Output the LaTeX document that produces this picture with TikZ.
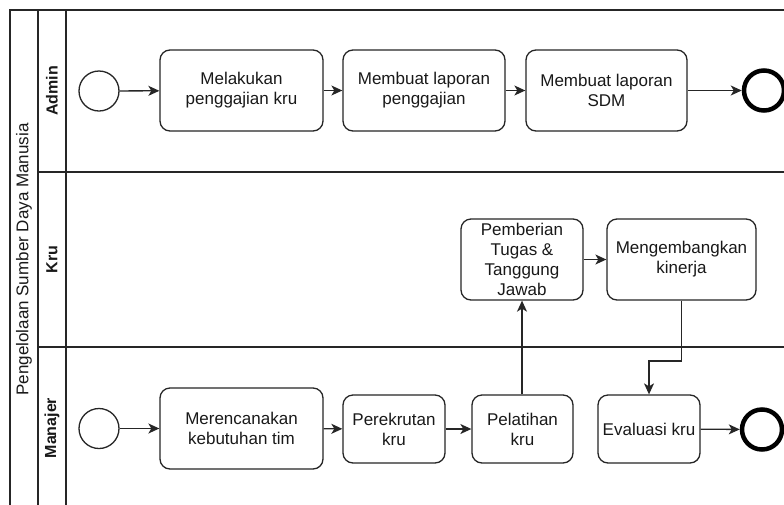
\documentclass[tikz,border=0pt]{standalone}
\usepackage{fontspec}
\setmainfont{Liberation Sans}
\usetikzlibrary{arrows.meta,calc}
\begin{document}
\begin{tikzpicture}[x=1pt,y=-1pt,
  line/.style={draw=black!85, line width=1.3pt},
  task/.style={line, rounded corners=10pt, fill=white, align=center,
    text=black!90, font=\fontsize{17}{20}\selectfont, inner sep=0pt},
  arr/.style={line, -{Stealth[length=11pt,width=10pt,inset=3pt]}},
  startev/.style={line, circle, minimum size=40pt, inner sep=0pt, fill=white},
  endev/.style={draw=black, line width=4.5pt, circle, minimum size=40pt, inner sep=0pt, fill=white},
  lanelabel/.style={rotate=90, font=\bfseries\fontsize{16}{19}\selectfont, text=black!90},
  pooltitle/.style={rotate=90, font=\fontsize{17}{20}\selectfont, text=black!90}
]
\clip (0,0) rectangle (784,504);
\fill[white] (0,0) rectangle (784,504);

% pool frame and lane dividers
\draw[line] (10,10) rectangle (800,509);
\draw[line] (38,10) -- (38,509);
\draw[line] (66,10) -- (66,509);
\draw[line] (38,172) -- (800,172);
\draw[line] (38,347) -- (800,347);

\node[pooltitle] (pool) at (24,259.5) {Pengelolaan Sumber Daya Manusia};
\node[lanelabel] (lAdmin) at (52,91) {Admin};
\node[lanelabel] (lKru) at (52,259.5) {Kru};
\node[lanelabel] (lMan) at (52,428) {Manajer};

% Admin lane
\node[startev] (s1) at (99,91) {};
\node[task, minimum width=163pt, minimum height=81pt] (gaji) at (241.5,90.5) {Melakukan\\penggajian kru};
\node[task, minimum width=162pt, minimum height=81pt] (lapgaji) at (424,90.5) {Membuat laporan\\penggajian};
\node[task, minimum width=161pt, minimum height=81pt] (lapsdm) at (606.5,90.5) {Membuat laporan\\SDM};
\node[endev] (e1) at (764,90.5) {};

% Kru lane
\node[task, minimum width=122pt, minimum height=81pt] (tugas) at (522,259.5) {Pemberian\\Tugas \&\\Tanggung\\Jawab};
\node[task, minimum width=149pt, minimum height=81pt] (kinerja) at (681.5,259.5) {Mengembangkan\\kinerja};

% Manajer lane
\node[startev] (s2) at (99,428.5) {};
\node[task, minimum width=163pt, minimum height=81pt] (rencana) at (241.5,428.5) {Merencanakan\\kebutuhan tim};
\node[task, minimum width=102pt, minimum height=68pt] (rekrut) at (394,429) {Perekrutan\\kru};
\node[task, minimum width=101pt, minimum height=68pt] (latih) at (522.5,429) {Pelatihan\\kru};
\node[task, minimum width=102pt, minimum height=68pt] (eval) at (649,429) {Evaluasi kru};
\node[endev] (e2) at (762,429.5) {};

% sequence flows
\draw[arr] (s1) -- (gaji);
\draw[arr] (gaji) -- (lapgaji);
\draw[arr] (lapgaji) -- (lapsdm);
\draw[arr] (lapsdm) -- (e1);
\draw[arr] (tugas) -- (kinerja);
\draw[arr] (s2) -- (rencana);
\draw[arr] (rencana) -- (rekrut);
\draw[arr] (rekrut) -- (latih);
\draw[arr] (latih.north -| tugas.south) -- (tugas.south);
\coordinate (elbow) at (649,361);
\draw[arr] (kinerja.south) |- (elbow) -- (eval.north);
\draw[arr] (eval) -- (e2);
\end{tikzpicture}
\end{document}
